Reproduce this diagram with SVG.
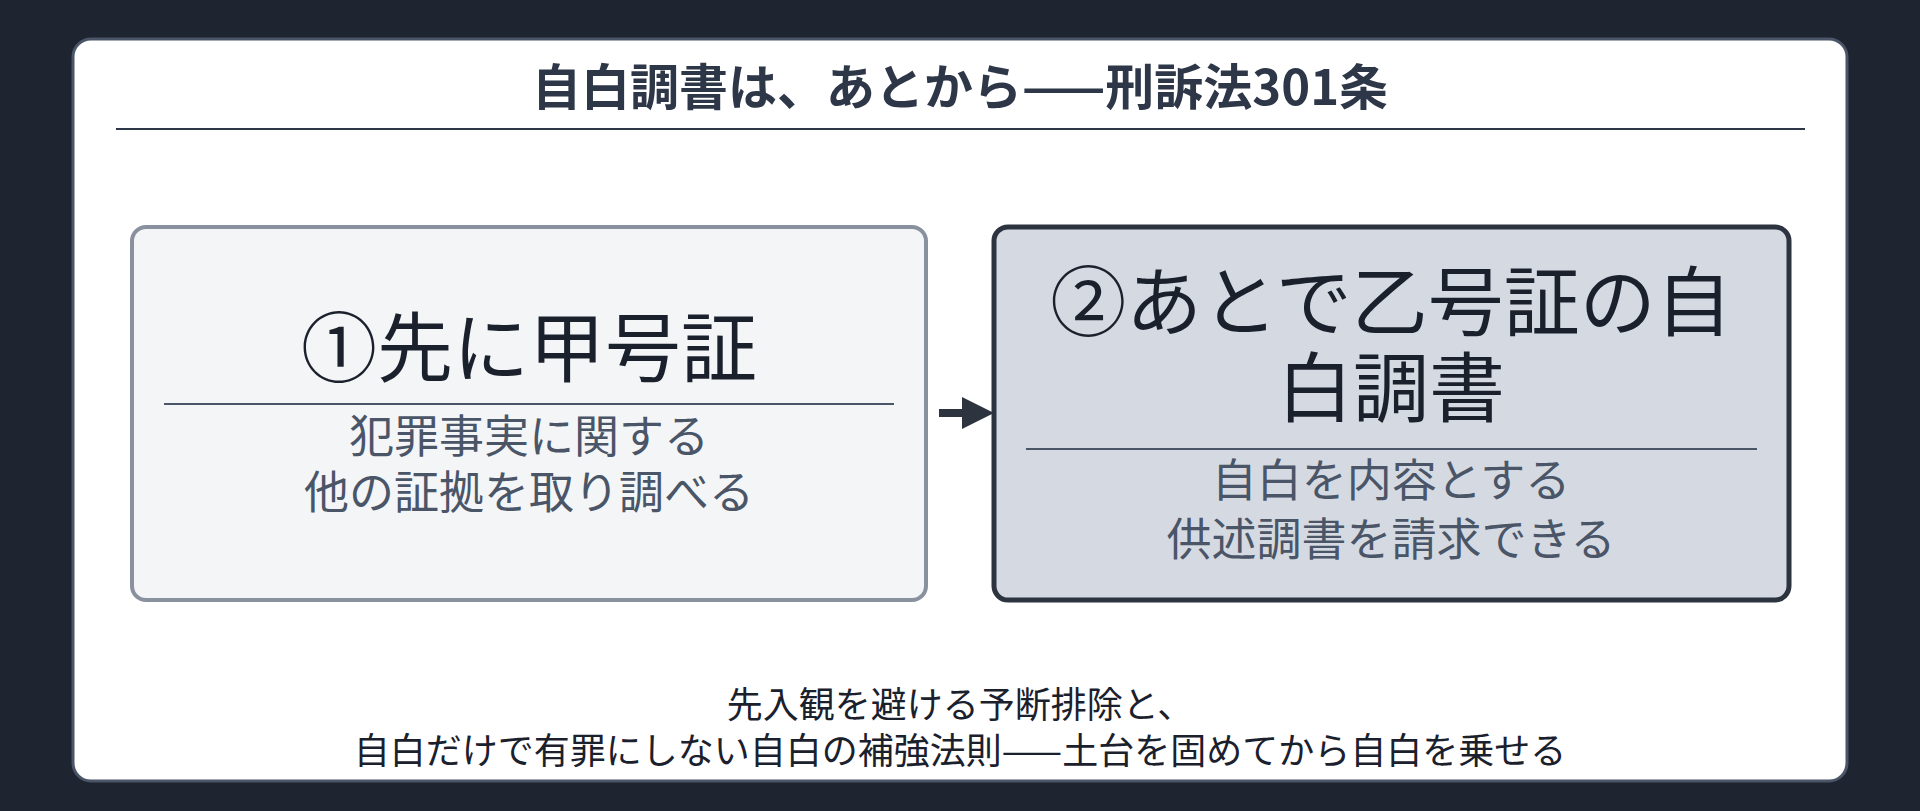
<svg xmlns="http://www.w3.org/2000/svg" width="1920" height="811" viewBox="0 0 1920 811">
<style>
text{font-family:"Noto Sans CJK JP","Noto Sans",sans-serif;text-anchor:middle}
.t{font-size:49px;font-weight:bold;fill:#2d3748}
.h{font-size:76px;fill:#1a202c}
.s{font-size:45px;fill:#4a5568}
.f{font-size:36px;fill:#1a202c}
</style>
<defs><marker id="ah" markerWidth="4" markerHeight="4" refX="2" refY="2" orient="auto"><path d="M0,0L4,2L0,4z" fill="#2d3440"/></marker></defs>
<rect width="1920" height="811" fill="#1e2430"/>
<rect x="73" y="39" width="1774" height="742" rx="18" fill="#ffffff" stroke="#4a5568" stroke-width="3"/>
<g id="title"><text class="t" x="960" y="105">自白調書は、あとから——刑訴法301条</text>
<line x1="116" y1="129" x2="1805" y2="129" stroke="#2d3748" stroke-width="2"/></g>
<g id="box1"><rect x="132" y="227" width="794" height="373" rx="14" fill="#f4f5f7" stroke="#8a919e" stroke-width="4"/>
<text class="h" x="529" y="376">①先に甲号証</text>
<line x1="164" y1="404" x2="894" y2="404" stroke="#4a5568" stroke-width="2"/>
<text class="s" x="529" y="453">犯罪事実に関する</text>
<text class="s" x="529" y="509">他の証拠を取り調べる</text></g>
<g id="box2"><rect x="994" y="227" width="795" height="373" rx="14" fill="#d5dae2" stroke="#2d3440" stroke-width="5"/>
<text class="h" x="1391" y="330">②あとで乙号証の自</text>
<text class="h" x="1391" y="416">白調書</text>
<line x1="1026" y1="449" x2="1757" y2="449" stroke="#4a5568" stroke-width="2"/>
<text class="s" x="1391" y="497">自白を内容とする</text>
<text class="s" x="1391" y="556">供述調書を請求できる</text></g>
<g id="connectors"><line x1="939" y1="413" x2="978" y2="413" stroke="#2d3440" stroke-width="8" marker-end="url(#ah)"/></g>
<g id="footer"><text class="f" x="960" y="718">先入観を避ける予断排除と、</text>
<text class="f" x="960" y="764">自白だけで有罪にしない自白の補強法則——土台を固めてから自白を乗せる</text></g>
</svg>
